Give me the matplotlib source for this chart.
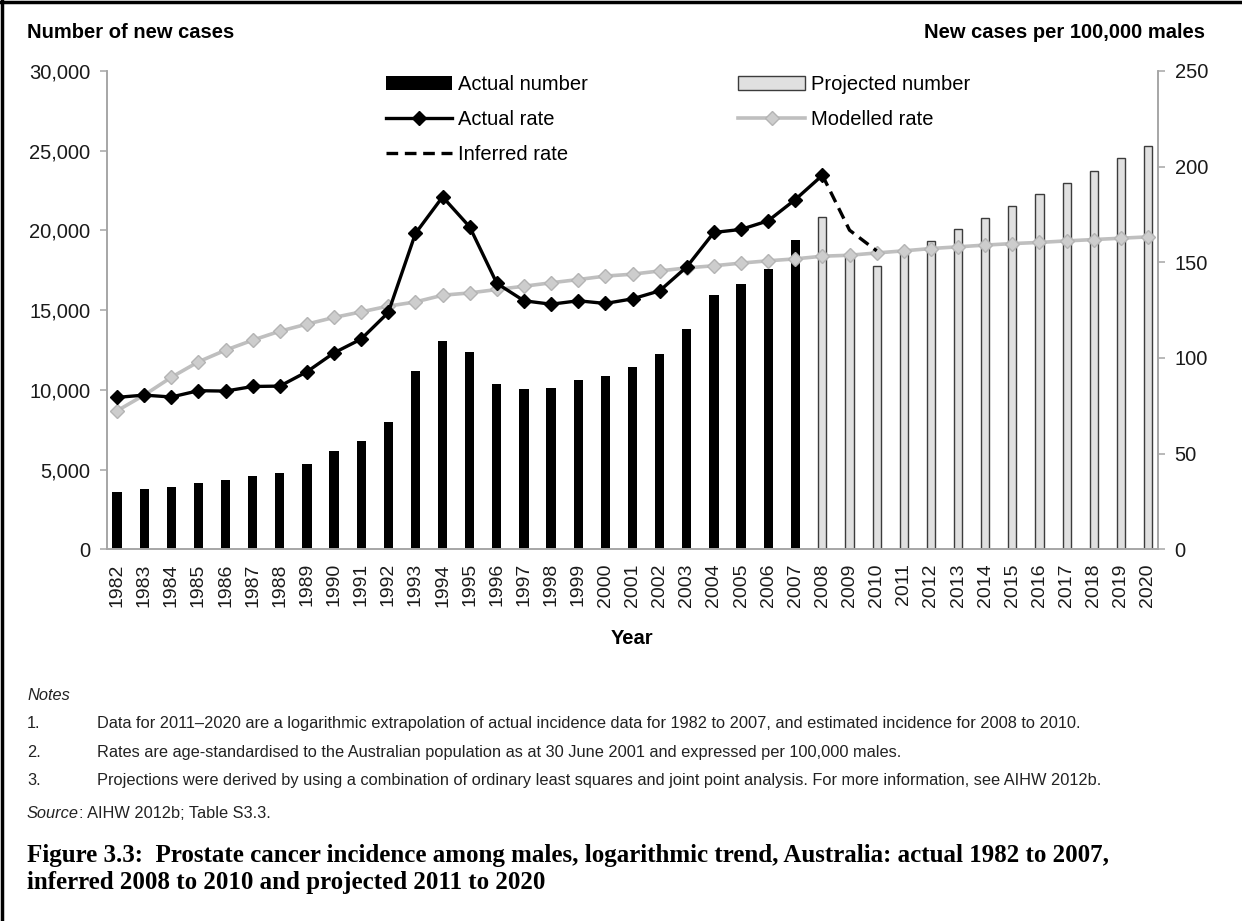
import numpy as np
import matplotlib
matplotlib.use('Agg')
import matplotlib.pyplot as plt
from matplotlib.lines import Line2D
from matplotlib.ticker import FuncFormatter

plt.rcParams['font.family'] = ['Liberation Sans', 'DejaVu Sans']

# data
years = list(range(1982, 2021))
actual_years = list(range(1982, 2008))
proj_years = list(range(2008, 2021))
actual_number = [3610, 3760, 3890, 4170, 4340, 4580, 4800, 5330, 6140, 6770, 7960, 11190,
                 13080, 12390, 10340, 10030, 10130, 10630, 10880, 11430, 12220, 13810,
                 15960, 16670, 17590, 19430]
projected_number = [20850, 18340, 17780, 18550, 19340, 20060, 20810, 21540, 22290,
                    23000, 23730, 24530, 25300]
actual_rate = [79.4, 80.6, 79.6, 82.9, 82.7, 85.1, 85.3, 92.8, 102.7, 109.9, 123.8, 165.1,
               184.2, 168.5, 139.0, 129.9, 128.1, 129.9, 128.5, 130.9, 135.1, 147.6,
               165.6, 167.2, 171.7, 182.8, 195.5]
rate_years = list(range(1982, 2009))
inferred_years = [2008, 2009, 2010]
inferred_rate = [195.5, 166.8, 156.0]
modelled_rate = [72.4, 80.6, 89.9, 98.0, 104.1, 109.3, 114.0, 117.7, 121.2, 124.1, 127.1,
                 129.3, 132.8, 134.0, 135.8, 137.5, 139.3, 141.0, 142.8, 143.8, 145.5,
                 147.1, 148.2, 149.6, 150.8, 151.8, 153.2, 153.7, 154.9, 156.0, 157.2,
                 158.1, 159.0, 159.8, 160.4, 161.2, 161.9, 162.6, 163.3]

W, H = 1242, 921
fig = plt.figure(figsize=(W / 100, H / 100), dpi=100)

def fx(px):
    return px / W

def fy(py):
    return 1 - py / H

ax = fig.add_axes([fx(107), fy(549.3), fx(1158 - 107), (549.3 - 71) / H])
ax2 = ax.twinx()

grey = '#a6a6a6'
idx = {y: i for i, y in enumerate(years)}
xa = [idx[y] for y in actual_years]
xp = [idx[y] for y in proj_years]

b1 = ax.bar(xa, actual_number, width=0.34, color='black', zorder=2)
b2 = ax.bar(xp, projected_number, width=0.3, color='#e0e0e0', edgecolor='#3c3c3c',
            linewidth=1.0, zorder=2)

l_mod, = ax2.plot(range(len(years)), modelled_rate, color='#bfbfbf', lw=2.6, marker='D',
                  ms=7, mfc='#cdcdcd', mec='#b4b4b4', zorder=3)
l_act, = ax2.plot([idx[y] for y in rate_years], actual_rate, color='black', lw=2.4,
                  marker='D', ms=7, zorder=4)
l_inf, = ax2.plot([idx[y] for y in inferred_years], inferred_rate, color='black', lw=2.4,
                  ls=(0, (3.5, 2)), zorder=4)

ax.set_xlim(-0.37, 38.37)
ax.set_ylim(0, 30000)
ax2.set_ylim(0, 250)
ax.set_yticks(range(0, 30001, 5000))
ax2.set_yticks(range(0, 251, 50))
ax.yaxis.set_major_formatter(FuncFormatter(lambda v, p: f'{int(v):,}'))
ax.set_xticks(range(len(years)))
ax.set_xticklabels([str(y) for y in years], rotation=90, fontsize=14, color='#1a1a1a')
ax.tick_params(axis='x', length=0, pad=10)
ax.tick_params(axis='y', length=5, width=1.1, color=grey, labelsize=14.5,
               labelcolor='#1a1a1a', pad=7)
ax2.tick_params(axis='y', length=5, width=1.1, color=grey, labelsize=14.5,
                labelcolor='#1a1a1a', pad=7)

for a in (ax, ax2):
    a.spines['top'].set_visible(False)
    for s in ('left', 'right', 'bottom'):
        a.spines[s].set_color(grey)
        a.spines[s].set_linewidth(1.2)
    a.patch.set_visible(False)

leg = ax2.legend([b1, l_act, l_inf, b2, l_mod],
                 ['Actual number', 'Actual rate', 'Inferred rate', 'Projected number', 'Modelled rate'],
                 ncol=2, frameon=False, fontsize=14.5, handlelength=3.3, handletextpad=0.3,
                 labelspacing=0.8, columnspacing=7.45, borderpad=0, borderaxespad=0,
                 loc='upper left', bbox_to_anchor=(fx(386), fy(75)),
                 bbox_transform=fig.transFigure)

fig.text(fx(27), fy(32), 'Number of new cases', fontsize=14.5, fontweight='bold', va='center')
fig.text(fx(1205), fy(33), 'New cases per 100,000 males', fontsize=14.5, fontweight='bold',
         va='center', ha='right')
fig.text(fx(632), fy(638), 'Year', fontsize=14.5, fontweight='bold', va='center', ha='center')

# notes
nfs = 11.8
fig.text(fx(27), fy(695), 'Notes', fontsize=nfs, style='italic', va='center', color='#222222')
notes = [
    'Data for 2011\u20132020 are a logarithmic extrapolation of actual incidence data for 1982 to 2007, and estimated incidence for 2008 to 2010.',
    'Rates are age-standardised to the Australian population as at 30 June 2001 and expressed per 100,000 males.',
    'Projections were derived by using a combination of ordinary least squares and joint point analysis. For more information, see AIHW 2012b.',
]
for i, (ny, note) in enumerate(zip([723, 752, 780], notes)):
    fig.text(fx(27), fy(ny), f'{i + 1}.', fontsize=nfs, va='center', color='#222222')
    fig.text(fx(97), fy(ny), note, fontsize=nfs, va='center', color='#222222')

src = fig.text(fx(27), fy(813), 'Source', fontsize=nfs, style='italic', va='center', color='#222222')
fig.canvas.draw()
bb = src.get_window_extent()
fig.text(bb.x1 / W, fy(813), ': AIHW 2012b; Table S3.3.', fontsize=nfs, va='center',
         color='#222222')

tfont = ['Liberation Serif', 'DejaVu Serif']
fig.text(fx(27), fy(855), 'Figure 3.3:  Prostate cancer incidence among males, logarithmic trend, Australia: actual 1982 to 2007,',
         fontsize=18, fontweight='bold', family=tfont, va='center')
fig.text(fx(27), fy(882), 'inferred 2008 to 2010 and projected 2011 to 2020',
         fontsize=18, fontweight='bold', family=tfont, va='center')

# page frame (top and left edges)
fig.add_artist(Line2D([0.0015, 0.0015], [0, 1], transform=fig.transFigure, color='black', lw=2.5))
fig.add_artist(Line2D([0, 1], [0.998, 0.998], transform=fig.transFigure, color='black', lw=2.5))

fig.savefig('out.png', dpi=100)
